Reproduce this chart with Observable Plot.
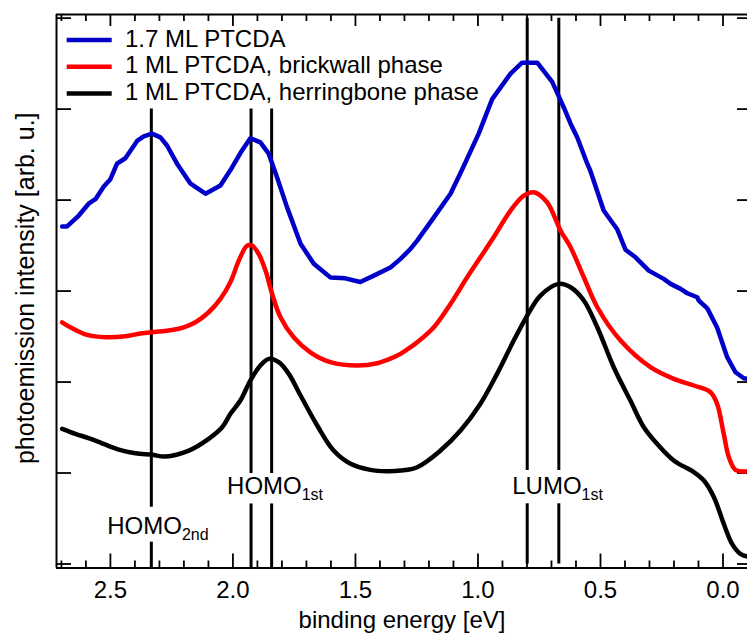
<!DOCTYPE html>
<html><head><meta charset="utf-8">
<script src="https://cdn.jsdelivr.net/npm/d3@7"></script>
<script src="https://cdn.jsdelivr.net/npm/@observablehq/plot@0.6"></script>
<style>body{margin:0;background:#fff} #chart{position:relative;width:747px;height:635px}</style>
</head><body><div id="chart"></div>
<script>
const seriesNames = ["1.7 ML PTCDA", "1 ML PTCDA, brickwall phase", "1 ML PTCDA, herringbone phase"];
const seriesColors = ["#0000c8", "#ff0000", "#000000"];

// [binding energy (eV), intensity (arb. u.)]
const ml17 = [
  [2.697,3.71],[2.677,3.71],[2.629,3.83],[2.589,3.96],[2.561,4.01],[2.527,4.15],[2.50,4.23],[2.473,4.40],
  [2.439,4.46],[2.391,4.65],[2.364,4.70],[2.33,4.73],[2.296,4.69],[2.269,4.60],[2.228,4.40],[2.173,4.18],
  [2.112,4.07],[2.051,4.16],[2.01,4.33],[1.969,4.52],[1.929,4.68],[1.888,4.635],[1.854,4.51],[1.82,4.25],
  [1.779,3.92],[1.724,3.52],[1.67,3.30],[1.602,3.15],[1.541,3.14],[1.48,3.10],[1.425,3.17],[1.357,3.26],
  [1.316,3.354],[1.276,3.46],[1.248,3.555],[1.18,3.81],[1.112,4.07],[1.064,4.34],[0.997,4.73],[0.942,5.11],
  [0.867,5.39],[0.82,5.51],[0.758,5.51],[0.697,5.30],[0.645,4.99],[0.622,4.84],[0.595,4.69],[0.554,4.40],
  [0.541,4.32],[0.487,3.885],[0.432,3.68],[0.398,3.455],[0.357,3.371],[0.303,3.225],[0.242,3.134],[0.214,3.079],
  [0.173,3.024],[0.146,2.976],[0.105,2.932],[0.099,2.896],[0.064,2.81],[0.024,2.60],[-0.017,2.273],[-0.051,2.108],
  [-0.085,2.042],[-0.1,2.035]
];
const brickwall = [
  [2.697,2.657],[2.656,2.591],[2.595,2.518],[2.52,2.492],[2.439,2.503],[2.384,2.53],[2.33,2.547],[2.248,2.573],
  [2.201,2.602],[2.153,2.657],[2.099,2.767],[2.051,2.914],[2.01,3.10],[1.976,3.335],[1.942,3.50],[1.922,3.50],
  [1.895,3.409],[1.867,3.225],[1.84,2.969],[1.806,2.712],[1.752,2.492],[1.684,2.327],[1.602,2.218],[1.493,2.181],
  [1.411,2.207],[1.344,2.273],[1.316,2.31],[1.276,2.382],[1.248,2.437],[1.18,2.602],[1.112,2.859],[1.044,3.152],
  [0.99,3.371],[0.936,3.591],[0.867,3.885],[0.813,4.049],[0.772,4.086],[0.718,3.976],[0.663,3.665],[0.622,3.481],
  [0.568,3.152],[0.513,2.822],[0.418,2.456],[0.296,2.163],[0.201,2.035],[0.119,1.962],[0.051,1.888],[0.024,1.76],
  [-0.003,1.431],[-0.024,1.174],[-0.051,1.035],[-0.1,1.02]
];
const herringbone = [
  [2.697,1.486],[2.643,1.431],[2.589,1.383],[2.534,1.327],[2.466,1.258],[2.398,1.218],[2.33,1.20],[2.276,1.181],
  [2.18,1.247],[2.099,1.376],[2.044,1.503],[2.01,1.651],[1.969,1.80],[1.929,2.016],[1.888,2.181],[1.854,2.255],
  [1.813,2.218],[1.772,2.09],[1.724,1.852],[1.656,1.522],[1.589,1.247],[1.52,1.101],[1.439,1.035],[1.371,1.02],
  [1.316,1.027],[1.248,1.064],[1.153,1.247],[1.071,1.467],[0.99,1.761],[0.922,2.09],[0.854,2.456],[0.799,2.731],
  [0.745,2.951],[0.67,3.079],[0.622,3.042],[0.568,2.896],[0.513,2.602],[0.446,2.163],[0.378,1.797],[0.323,1.503],
  [0.269,1.321],[0.201,1.137],[0.119,1.009],[0.078,0.918],[0.037,0.734],[-0.003,0.442],[-0.037,0.222],[-0.071,0.112],
  [-0.1,0.082]
];

const majorTicks = [2.5, 2.0, 1.5, 1.0, 0.5, 0.0];
const minorTicks = [2.7,2.6,2.4,2.3,2.2,2.1,1.9,1.8,1.7,1.6,1.4,1.3,1.2,1.1,0.9,0.8,0.7,0.6,0.4,0.3,0.2,0.1];
const yTicks = [0, 1, 2, 3, 4, 5, 6];

// peak marker lines: energy, top, gap (label) top/bottom, bottom
const markerLines = [
  {x: 2.333, top: 5.0, gapTop: 0.624, gapBottom: 0.24, bottom: -0.044},
  {x: 1.926, top: 5.0, gapTop: 0.995, gapBottom: 0.66, bottom: -0.044},
  {x: 1.842, top: 5.0, gapTop: 0.995, gapBottom: 0.66, bottom: -0.044},
  {x: 0.799, top: 6.0, gapTop: 1.027, gapBottom: 0.662, bottom: 0},
  {x: 0.670, top: 6.0, gapTop: 1.027, gapBottom: 0.662, bottom: 0}
];
const annotations = [
  {x: 2.513, y: 0.332, main: "HOMO", sub: "2nd"},
  {x: 2.024, y: 0.765, main: "HOMO", sub: "1st"},
  {x: 0.860, y: 0.765, main: "LUMO", sub: "1st"}
];
const xTitle = "binding energy [eV]";
const yTitle = "photoemission intensity [arb. u.]";

const xDomain = [2.72, -0.1];
const yDomain = [-0.044, 6.04];

const W = 747, H = 635, mL = 56, mR = 0, mT = 14, mB = 67.5;
const pw = W - mL - mR, ph = H - mT - mB;
const FS = 24;

const segs = markerLines.flatMap(d => [
  {x: d.x, y1: d.top, y2: d.gapTop},
  {x: d.x, y1: d.gapBottom, y2: d.bottom}
]);
const toRows = (s, i) => s.map(([x, y]) => ({x, y, s: seriesNames[i]}));
const jaggedData = toRows(ml17, 0);
const smoothData = [...toRows(brickwall, 1), ...toRows(herringbone, 2)];
const font = "Liberation Sans, Arial, sans-serif";

const chart = Plot.plot({
  width: W, height: H,
  marginLeft: mL, marginRight: mR, marginTop: mT, marginBottom: mB,
  style: {fontFamily: font, background: "white", overflow: "visible"},
  x: {domain: xDomain, axis: null},
  y: {domain: yDomain, axis: null},
  color: {domain: seriesNames, range: seriesColors},
  marks: [
    Plot.ruleX([xDomain[0]], {stroke: "black", strokeWidth: 2}),
    Plot.ruleY([yDomain[0]], {stroke: "black", strokeWidth: 2}),
    Plot.ruleY([yDomain[1]], {stroke: "black", strokeWidth: 2}),
    Plot.ruleX(majorTicks, {x: d => d, insetTop: ph - 14, stroke: "black", strokeWidth: 1.8}),
    Plot.ruleX(minorTicks, {x: d => d, insetTop: ph - 7, stroke: "black", strokeWidth: 1.8}),
    Plot.ruleX(majorTicks, {x: d => d, insetBottom: ph - 12, stroke: "black", strokeWidth: 1.8}),
    Plot.ruleX(minorTicks, {x: d => d, insetBottom: ph - 7, stroke: "black", strokeWidth: 1.8}),
    Plot.ruleY(yTicks, {y: d => d, insetRight: pw - 15, stroke: "black", strokeWidth: 1.8}),
    Plot.ruleY(yTicks, {y: d => d, insetLeft: pw - 10, stroke: "black", strokeWidth: 1.8}),
    Plot.ruleX(segs, {x: "x", y1: "y1", y2: "y2", stroke: "black", strokeWidth: 3}),
    Plot.line(jaggedData, {x: "x", y: "y", z: "s", stroke: "s", strokeWidth: 4.5, strokeLinejoin: "round"}),
    Plot.line(smoothData, {x: "x", y: "y", z: "s", stroke: "s", strokeWidth: 4.5, strokeLinejoin: "round", curve: "catmull-rom"}),
    Plot.text(annotations, {x: "x", y: "y", text: d => d.main + "|" + d.sub, textAnchor: "start", lineAnchor: "bottom", fontSize: FS, fill: "black"}),
    Plot.text(majorTicks, {x: d => d, frameAnchor: "bottom", dy: 29.5, lineAnchor: "bottom", text: d => d3.format(".1f")(d), fontSize: FS, fill: "black"}),
    Plot.text([xTitle], {frameAnchor: "bottom", dy: 59.5, lineAnchor: "bottom", text: d => d, fontSize: FS, fill: "black"}),
    Plot.text([yTitle], {frameAnchor: "left", rotate: -90, dx: -23, dy: -3, lineAnchor: "bottom", textAnchor: "middle", text: d => d, fontSize: 25, fill: "black"})
  ]
});

d3.select(chart).selectAll("text").each(function() {
  const t = this.textContent;
  if (t.includes("|")) {
    const [a, b] = t.split("|");
    const sel = d3.select(this);
    sel.text(null);
    sel.append("tspan").text(a);
    sel.append("tspan").attr("dy", 6).attr("font-size", 16).text(b);
  }
});

const svg = d3.select(chart);
const lg = svg.append("g").attr("font-family", font).attr("font-size", FS).attr("text-anchor", "start");
seriesNames.forEach((name, i) => {
  const yb = 46.7 + i * 26.7;
  lg.append("line").attr("x1", 66.7).attr("x2", 111.7).attr("y1", yb - 6.7).attr("y2", yb - 6.7)
    .attr("stroke", seriesColors[i]).attr("stroke-width", 4.5);
  lg.append("text").attr("x", 125).attr("y", yb).attr("fill", "black").text(name);
});

document.getElementById("chart").appendChild(chart);
</script></body></html>
